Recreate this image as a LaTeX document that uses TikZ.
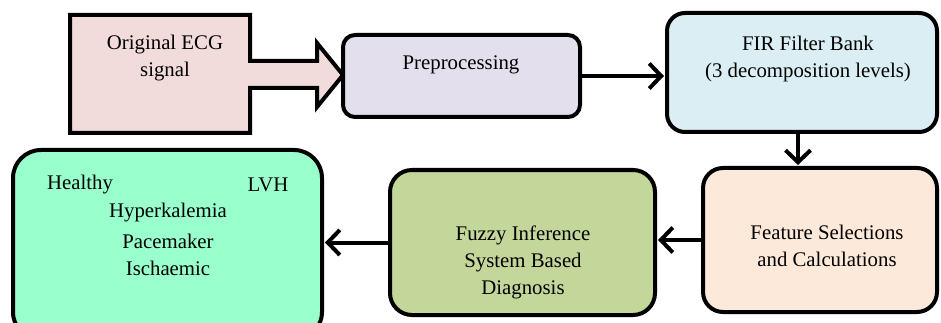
\documentclass[tikz,border=0pt]{standalone}
\usepackage{fontspec}
\setmainfont{Liberation Serif}
\usetikzlibrary{arrows.meta}
\definecolor{ecgpink}{HTML}{F2DCDB}
\definecolor{prelav}{HTML}{E4DFEC}
\definecolor{firblue}{HTML}{DAEEF3}
\definecolor{featpeach}{HTML}{FDE9D9}
\definecolor{fuzzgreen}{HTML}{C4D79B}
\definecolor{clsmint}{HTML}{99FFCC}
\tikzset{
  stagebox/.style={draw=black, line width=4pt, rounded corners=#1, inner sep=0pt},
  stagebox/.default=14pt,
  txt/.style={font=\fontsize{20.8}{27}\selectfont, align=center, inner sep=0pt, text=black},
  flow/.style={line width=4pt, -{Straight Barb[length=12pt,width=25pt,line width=4pt]}, shorten >=1pt},
}
\begin{document}
\begin{tikzpicture}[x=1pt, y=-1pt]
\useasboundingbox (0,0) rectangle (941,323);
\clip (0,0) rectangle (941,323);

% input block with its built-in block arrow
\draw[line width=4pt, fill=ecgpink, line join=miter]
  (70,15) -- (250,15) -- (250,61) -- (317,61) -- (317,43) -- (343,75)
  -- (317,107) -- (317,88) -- (250,88) -- (250,133) -- (70,133) -- cycle;
\coordinate (ecgtip) at (343,75);
\node[txt] (ecgtxt) at (165,58) {Original ECG\\signal};

% processing stages
\node[stagebox=12pt, fill=prelav, minimum width=237pt, minimum height=82pt] (pre) at (461.5,76) {};
\node[txt] (pretxt) at (461,65) {Preprocessing};

\node[stagebox=18pt, fill=firblue, minimum width=270pt, minimum height=119pt] (fir) at (802,72.5) {};
\node[txt] (firtxt) at (808,59) {FIR Filter Bank\\(3 decomposition levels)};

\node[stagebox=20pt, fill=featpeach, minimum width=234pt, minimum height=144pt] (feat) at (820,240) {};
\node[txt] (feattxt) at (827,246) {Feature Selections\\and Calculations};

\node[stagebox=22pt, fill=fuzzgreen, minimum width=265pt, minimum height=145pt] (fuzzy) at (522.5,242.5) {};
\node[txt] (fuzzytxt) at (523,262) {Fuzzy Inference\\System Based\\Diagnosis};

\node[stagebox=28pt, fill=clsmint, minimum width=309pt, minimum height=190pt] (cls) at (167.5,245) {};
\node[txt] (healthy) at (80,185) {Healthy};
\node[txt] (lvh) at (268,185) {LVH};
\node[txt] (hyper) at (168,213) {Hyperkalemia};
\node[txt] (pace) at (168,241) {Pacemaker};
\node[txt] (isch) at (168,268) {Ischaemic};

% connectors
\draw[flow] (pre.east) -- (pre.east -| fir.west);
\draw[flow] ([xshift=-4pt]fir.south) -- ([xshift=-4pt]fir.south |- feat.north);
\draw[flow] (feat.west) -- (feat.west -| fuzzy.east);
\draw[flow] (fuzzy.west) -- (fuzzy.west -| cls.east);
\end{tikzpicture}
\end{document}
